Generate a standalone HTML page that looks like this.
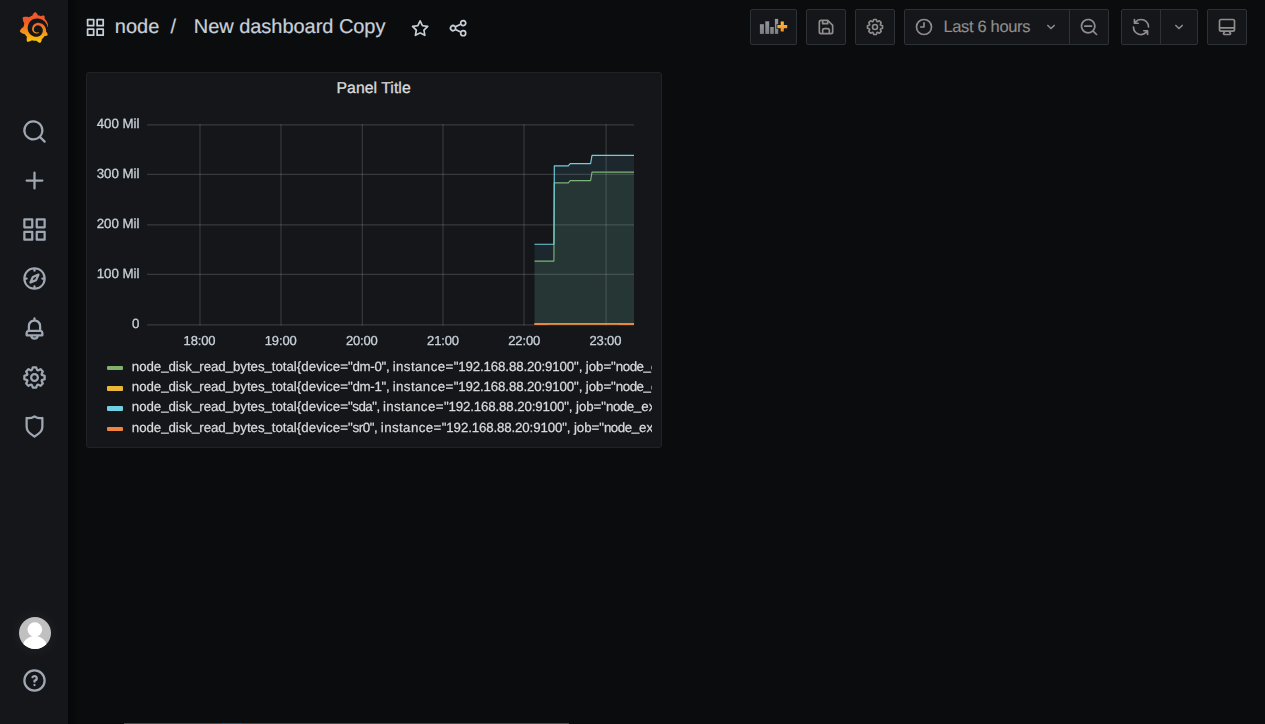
<!DOCTYPE html>
<html>
<head>
<meta charset="utf-8">
<title>New dashboard Copy - Grafana</title>
<style>
html,body{margin:0;padding:0;}
body{width:1265px;height:724px;overflow:hidden;background:#0b0c0e;font-family:"Liberation Sans",sans-serif;color:#c7d0d9;position:relative;}
.abs{position:absolute;}
#side{position:absolute;left:0;top:0;width:68px;height:724px;background:#141619;}
.sico{position:absolute;fill:#9fa7b3;}
.btn{position:absolute;top:9px;height:34px;border:1px solid #2c3235;border-radius:2px;background:#141619;box-sizing:content-box;}
.btn svg{position:absolute;fill:#8e8e8e;}
#panel{position:absolute;left:86px;top:72px;width:574px;height:374px;background:#141619;border:1px solid #202226;border-radius:3px;}
.t{position:absolute;white-space:nowrap;line-height:1;text-rendering:geometricPrecision;}
.lg{line-height:20px !important;height:20px;}
.yl,.xl,.lg{-webkit-text-stroke:0.25px;}
.u{font-style:normal;position:relative;top:-1px;}
.yl{letter-spacing:0px;}
</style>
</head>
<body>
<svg width="0" height="0" style="position:absolute">
<defs>
<path id="i-search" d="M21.71,20.29,18,16.61A9,9,0,1,0,16.61,18l3.68,3.68a1,1,0,0,0,1.42,0A1,1,0,0,0,21.71,20.29ZM11,18a7,7,0,1,1,7-7A7,7,0,0,1,11,18Z"/>
<path id="i-plus" d="M19,11H13V5a1,1,0,0,0-2,0v6H5a1,1,0,0,0,0,2h6v6a1,1,0,0,0,2,0V13h6a1,1,0,0,0,0-2Z"/>
<path id="i-apps" d="M10,13H3a1,1,0,0,0-1,1v7a1,1,0,0,0,1,1h7a1,1,0,0,0,1-1V14A1,1,0,0,0,10,13ZM9,20H4V15H9ZM21,2H14a1,1,0,0,0-1,1v7a1,1,0,0,0,1,1h7a1,1,0,0,0,1-1V3A1,1,0,0,0,21,2ZM20,9H15V4h5Zm1,4H14a1,1,0,0,0-1,1v7a1,1,0,0,0,1,1h7a1,1,0,0,0,1-1V14A1,1,0,0,0,21,13Zm-1,7H15V15h5ZM10,2H3A1,1,0,0,0,2,3v7a1,1,0,0,0,1,1h7a1,1,0,0,0,1-1V3A1,1,0,0,0,10,2ZM9,9H4V4H9Z"/>
<path id="i-compass" d="M12,2A10,10,0,1,0,22,12,10,10,0,0,0,12,2Zm1,17.93V19a1,1,0,0,0-2,0v.93A8,8,0,0,1,4.07,13H5a1,1,0,0,0,0-2H4.07A8,8,0,0,1,11,4.07V5a1,1,0,0,0,2,0V4.07A8,8,0,0,1,19.93,11H19a1,1,0,0,0,0,2h.93A8,8,0,0,1,13,19.93ZM15.14,7.55l-5,2.12a1,1,0,0,0-.52.52l-2.120,5a1,1,0,0,0,.21,1.1,1,1,0,0,0,.7.3.93.93,0,0,0,.4-.09l5-2.120a1,1,0,0,0,.52-.52l2.120-5a1,1,0,0,0-1.310-1.310Zm-2.490,5.1-2.280,1,1-2.280,2.280-1Z"/>
<path id="i-bell" d="M18,13.180V10a6,6,0,0,0-5-5.910V3a1,1,0,0,0-2,0V4.090A6,6,0,0,0,6,10v3.180A3,3,0,0,0,4,16v2a1,1,0,0,0,1,1H8.140a4,4,0,0,0,7.720,0H19a1,1,0,0,0,1-1V16A3,3,0,0,0,18,13.180ZM8,10a4,4,0,0,1,8,0v3H8Zm4,10a2,2,0,0,1-1.720-1h3.440A2,2,0,0,1,12,20Zm6-3H6V16a1,1,0,0,1,1-1H17a1,1,0,0,1,1,1Z"/>
<path id="i-cog" d="M21.320,9.550l-1.890-.63.890-1.780A1,1,0,0,0,20.130,6L18,3.870a1,1,0,0,0-1.150-.19l-1.780.89-.63-1.890A1,1,0,0,0,13.500,2h-3a1,1,0,0,0-.95.680L8.920,4.570,7.140,3.680A1,1,0,0,0,6,3.870L3.870,6a1,1,0,0,0-.19,1.150l.89,1.780-1.890.63A1,1,0,0,0,2,10.500v3a1,1,0,0,0,.68.950l1.890.63-.89,1.780A1,1,0,0,0,3.870,18L6,20.130a1,1,0,0,0,1.150.19l1.780-.89.63,1.890a1,1,0,0,0,.95.680h3a1,1,0,0,0,.95-.68l.63-1.890,1.780.89A1,1,0,0,0,18,20.130L20.130,18a1,1,0,0,0,.19-1.150l-.89-1.780,1.890-.63A1,1,0,0,0,22,13.500v-3A1,1,0,0,0,21.320,9.550ZM20,12.780l-1.200.4A2,2,0,0,0,17.640,16l.57,1.140-1.100,1.100L16,17.640a2,2,0,0,0-2.790,1.160l-.4,1.200H11.220l-.4-1.200A2,2,0,0,0,8,17.640l-1.140.57-1.100-1.100L6.360,16A2,2,0,0,0,5.200,13.180L4,12.780V11.220l1.200-.4A2,2,0,0,0,6.360,8L5.790,6.890l1.100-1.100L8,6.360A2,2,0,0,0,10.820,5.200l.4-1.200h1.560l.4,1.200A2,2,0,0,0,16,6.360l1.140-.57,1.100,1.100L17.640,8a2,2,0,0,0,1.160,2.790l1.200.4ZM12,8a4,4,0,1,0,4,4A4,4,0,0,0,12,8Zm0,6a2,2,0,1,1,2-2A2,2,0,0,1,12,14Z"/>
<path id="i-shield" d="M19.630,3.650a1,1,0,0,0-.84-.2,8,8,0,0,1-6.220-1.270,1,1,0,0,0-1.140,0A8,8,0,0,1,5.210,3.450a1,1,0,0,0-.84.2A1,1,0,0,0,4,4.430v7.450a9,9,0,0,0,3.770,7.330l3.650,2.600a1,1,0,0,0,1.160,0l3.650-2.600A9,9,0,0,0,20,11.880V4.430A1,1,0,0,0,19.630,3.650ZM18,11.880a7,7,0,0,1-2.930,5.700L12,19.770,8.930,17.580A7,7,0,0,1,6,11.880V5.580a10,10,0,0,0,6-1.390,10,10,0,0,0,6,1.390Z"/>
<path id="i-question" d="M11.290,15.290a1.580,1.580,0,0,0-.12.150.76.76,0,0,0-.09.180.64.640,0,0,0-.06.180,1.360,1.360,0,0,0,0,.2.840.84,0,0,0,.08.380.9.900,0,0,0,.54.540.94.940,0,0,0,.76,0,.9.900,0,0,0,.54-.54A1,1,0,0,0,13,16a1,1,0,0,0-.29-.71A1,1,0,0,0,11.290,15.290ZM12,2A10,10,0,1,0,22,12,10,10,0,0,0,12,2Zm0,18a8,8,0,1,1,8-8A8,8,0,0,1,12,20ZM12,7A3,3,0,0,0,9.400,8.500a1,1,0,1,0,1.730,1A1,1,0,0,1,12,9a1,1,0,0,1,0,2,1,1,0,0,0-1,1v1a1,1,0,0,0,2,0v-.18A3,3,0,0,0,12,7Z"/>
<path id="i-star" d="M22,9.670A1,1,0,0,0,21.140,9l-5.690-.83L12.900,3a1,1,0,0,0-1.800,0L8.550,8.160,2.860,9a1,1,0,0,0-.81.680,1,1,0,0,0,.25,1l4.130,4-1,5.680A1,1,0,0,0,6.900,21.440L12,18.770l5.100,2.670a.93.930,0,0,0,.46.120,1,1,0,0,0,.59-.19,1,1,0,0,0,.4-1l-1-5.680,4.130-4A1,1,0,0,0,22,9.670Zm-6.150,4a1,1,0,0,0-.29.880l.72,4.200-3.760-2a1.060,1.060,0,0,0-.94,0l-3.760,2,.72-4.200a1,1,0,0,0-.29-.88l-3-3,4.210-.61a1,1,0,0,0,.76-.55L12,5.700l1.880,3.820a1,1,0,0,0,.76.550l4.210.61Z"/>
<path id="i-share" d="M18,14a4,4,0,0,0-3.080,1.480l-5.100-2.350a3.640,3.640,0,0,0,0-2.260l5.100-2.350A4,4,0,1,0,14,6a4.170,4.170,0,0,0,.07.710L8.790,9.140a4,4,0,1,0,0,5.720l5.280,2.430A4.170,4.170,0,0,0,14,18a4,4,0,1,0,4-4ZM18,4a2,2,0,1,1-2,2A2,2,0,0,1,18,4ZM6,14a2,2,0,1,1,2-2A2,2,0,0,1,6,14Zm12,6a2,2,0,1,1,2-2A2,2,0,0,1,18,20Z"/>
<path id="i-save" d="M20.710,9.290l-6-6a1,1,0,0,0-.32-.21A1.090,1.090,0,0,0,14,3H6A3,3,0,0,0,3,6V18a3,3,0,0,0,3,3H18a3,3,0,0,0,3-3V10A1,1,0,0,0,20.710,9.290ZM9,5h4V7H9Zm6,14H9V16a1,1,0,0,1,1-1h4a1,1,0,0,1,1,1Zm4-1a1,1,0,0,1-1,1H17V16a3,3,0,0,0-3-3H10a3,3,0,0,0-3,3v3H6a1,1,0,0,1-1-1V6A1,1,0,0,1,6,5H7V8A1,1,0,0,0,8,9h6a1,1,0,0,0,1-1V6.410l4,4Z"/>
<path id="i-clock" d="M12,2A10,10,0,1,0,22,12,10.011,10.011,0,0,0,12,2Zm0,18a8,8,0,1,1,8-8A8.009,8.009,0,0,1,12,20ZM12,6a1,1,0,0,0-1,1v4H8a1,1,0,0,0,0,2h4a1,1,0,0,0,1-1V7A1,1,0,0,0,12,6Z"/>
<path id="i-angle" d="M17,9.170a1,1,0,0,0-1.410,0L12,12.710,8.460,9.170a1,1,0,0,0-1.410,0,1,1,0,0,0,0,1.420l4.240,4.240a1,1,0,0,0,1.420,0L17,10.590A1,1,0,0,0,17,9.170Z"/>
<path id="i-zoomout" d="M21.710,20.290,18,16.610A9,9,0,1,0,16.610,18l3.680,3.680a1,1,0,0,0,1.420,0A1,1,0,0,0,21.710,20.290ZM11,18a7,7,0,1,1,7-7A7,7,0,0,1,11,18Zm4-8H7a1,1,0,0,0,0,2h8a1,1,0,0,0,0-2Z"/>
<path id="i-sync" d="M19.910,15.510H15.380a1,1,0,0,0,0,2h2.400A8,8,0,0,1,4,12a1,1,0,0,0-2,0,10,10,0,0,0,16.880,7.230V21a1,1,0,0,0,2,0V16.500A1,1,0,0,0,19.910,15.510ZM12,2A10,10,0,0,0,5.120,4.770V3a1,1,0,0,0-2,0V7.500a1,1,0,0,0,1,1h4.500a1,1,0,0,0,0-2H6.220A8,8,0,0,1,20,12a1,1,0,0,0,2,0A10,10,0,0,0,12,2Z"/>
<path id="i-monitor" d="M19,2H5A3,3,0,0,0,2,5V15a3,3,0,0,0,3,3H7.640l-.58,1a2,2,0,0,0,0,2,2,2,0,0,0,1.750,1h6.460A2,2,0,0,0,17,21a2,2,0,0,0,0-2l-.59-1H19a3,3,0,0,0,3-3V5A3,3,0,0,0,19,2ZM8.770,20,10,18H14l1.200,2ZM20,15a1,1,0,0,1-1,1H5a1,1,0,0,1-1-1V14H20Zm0-3H4V5A1,1,0,0,1,5,4H19a1,1,0,0,1,1,1Z"/>
</defs>
</svg>

<!-- SIDEBAR -->
<div id="side">
<svg class="abs" style="left:19.3px;top:12px" width="29.8" height="31" viewBox="0 0 351 365"><defs><linearGradient id="logograd" gradientUnits="userSpaceOnUse" x1="175.5" y1="445" x2="175.5" y2="114"><stop offset="0" stop-color="#FFF100"/><stop offset="1" stop-color="#F05A28"/></linearGradient></defs><path fill="url(#logograd)" d="M342,161.2c-0.6-6.1-1.6-13.1-3.600-20.900c-2-7.700-5-16.200-9.400-25c-4.400-8.800-10.100-17.900-17.500-26.800c-2.900-3.500-6.100-6.900-9.500-10.200c5.100-20.300-6.200-37.900-6.200-37.900c-19.500-1.200-31.900,6.100-36.500,9.400c-0.800-0.300-1.500-0.700-2.300-1c-3.300-1.300-6.700-2.600-10.300-3.700c-3.500-1.100-7.100-2.100-10.800-3c-3.700-0.900-7.400-1.600-11.200-2.200c-0.700-0.100-1.300-0.200-2-0.300c-8.500-27.200-32.900-38.600-32.900-38.600c-27.300,17.300-32.400,41.500-32.400,41.500s-0.100,0.500-0.300,1.400c-1.500,0.400-3,0.900-4.500,1.300c-2.100,0.600-4.200,1.400-6.200,2.200c-2.100,0.800-4.100,1.600-6.200,2.500c-4.100,1.800-8.200,3.800-12.200,6c-3.900,2.200-7.700,4.600-11.400,7.100c-0.500-0.200-1-0.400-1-0.400c-37.800-14.400-71.300,2.900-71.300,2.900c-3.100,40.200,15.100,65.500,18.700,70.100c-0.900,2.500-1.700,5-2.500,7.500c-2.800,9.100-4.900,18.400-6.200,28.100c-0.200,1.400-0.400,2.800-0.500,4.200C18.800,192.700,8.500,228,8.500,228c29.100,33.500,63.100,35.600,63.100,35.600c0,0,0.100-0.100,0.100-0.100c4.300,7.700,9.300,15,14.900,21.900c2.400,2.900,4.800,5.600,7.400,8.300c-10.600,30.400,1.500,55.600,1.500,55.600c32.400,1.200,53.700-14.200,58.200-17.700c3.200,1.100,6.500,2.100,9.800,2.900c10,2.600,20.200,4.100,30.400,4.500c2.500,0.100,5.100,0.200,7.600,0.100l1.200,0l0.800,0l1.600,0l1.600-0.100l0,0.100c15.300,21.800,42.100,24.900,42.100,24.900c19.100-20.100,20.200-40.100,20.200-44.400l0,0c0,0,0-0.100,0-0.300c0-0.400,0-0.600,0-0.600l0,0c0-0.300,0-0.600,0-0.900c4-2.800,7.800-5.800,11.400-9.100c7.600-6.900,14.300-14.800,19.900-23.300c0.500-0.800,1-1.600,1.500-2.400c21.600,1.200,36.900-13.400,36.900-13.400c-3.600-22.500-16.400-33.500-19.100-35.600l0,0c0,0-0.100-0.100-0.300-0.200c-0.200-0.100-0.200-0.200-0.200-0.200c0,0,0,0,0,0c-0.100-0.100-0.300-0.200-0.500-0.300c0.100-1.400,0.200-2.700,0.300-4.100c0.200-2.400,0.200-4.900,0.200-7.300l0-1.800l0-0.900l0-0.500c0-0.600,0-0.400,0-0.600l-0.100-1.500l-0.100-2c0-0.700-0.100-1.300-0.200-1.900c-0.100-0.600-0.100-1.300-0.200-1.900l-0.200-1.900l-0.300-1.900c-0.400-2.500-0.800-4.900-1.400-7.400c-2.300-9.700-6.100-18.900-11-27.200c-5-8.300-11.200-15.600-18.300-21.800c-7-6.200-14.900-11.200-23.100-14.900c-8.300-3.700-16.900-6.100-25.500-7.200c-4.300-0.600-8.600-0.800-12.900-0.700l-1.600,0l-0.400,0c-0.100,0-0.600,0-0.500,0l-0.700,0l-1.600,0.100c-0.600,0-1.200,0.100-1.700,0.100c-2.200,0.200-4.400,0.500-6.500,0.900c-8.600,1.600-16.700,4.700-23.800,9c-7.100,4.300-13.300,9.600-18.300,15.600c-5,6-8.900,12.700-11.600,19.600c-2.700,6.900-4.200,14.100-4.600,21c-0.100,1.700-0.100,3.500-0.100,5.200c0,0.400,0,0.900,0,1.300l0.100,1.400c0.100,0.800,0.100,1.700,0.200,2.500c0.300,3.500,1,6.900,1.900,10.100c1.900,6.500,4.900,12.400,8.600,17.400c3.700,5,8.200,9.100,12.900,12.400c4.700,3.200,9.800,5.500,14.800,7c5,1.500,10,2.100,14.700,2.100c0.600,0,1.200,0,1.700,0c0.300,0,0.600,0,0.900,0c0.300,0,0.600,0,0.900-0.100c0.500,0,1-0.100,1.500-0.100c0.100,0,0.300,0,0.400-0.100l0.500-0.100c0.300,0,0.600-0.100,0.900-0.100c0.600-0.100,1.100-0.200,1.700-0.300c0.600-0.100,1.100-0.200,1.600-0.400c1.100-0.200,2.100-0.600,3.100-0.900c2-0.700,4-1.500,5.700-2.400c1.800-0.900,3.400-2,5-3c0.400-0.300,0.900-0.600,1.300-1c1.600-1.300,1.900-3.700,0.600-5.300c-1.100-1.400-3.100-1.800-4.700-0.900c-0.400,0.200-0.800,0.400-1.200,0.600c-1.400,0.700-2.800,1.300-4.300,1.800c-1.500,0.500-3.100,0.900-4.700,1.200c-0.800,0.100-1.600,0.200-2.500,0.300c-0.400,0-0.800,0.100-1.300,0.100c-0.400,0-0.900,0-1.200,0c-0.400,0-0.800,0-1.200,0c-0.500,0-1,0-1.500-0.100c0,0-0.300,0-0.100,0l-0.200,0l-0.300,0c-0.200,0-0.500,0-0.700-0.100c-0.500-0.100-0.900-0.100-1.400-0.200c-3.700-0.500-7.400-1.600-10.900-3.200c-3.600-1.600-7-3.800-10.100-6.600c-3.100-2.800-5.800-6.100-7.900-9.900c-2.100-3.800-3.600-8-4.300-12.400c-0.300-2.200-0.500-4.500-0.400-6.700c0-0.600,0.100-1.200,0.100-1.800c0,0.200,0-0.100,0-0.100l0-0.200l0-0.500c0-0.300,0.100-0.600,0.100-0.900c0.100-1.200,0.300-2.400,0.500-3.600c1.700-9.600,6.500-19,13.900-26.100c1.900-1.800,3.900-3.400,6-4.900c2.100-1.500,4.400-2.800,6.800-3.900c2.400-1.100,4.800-2,7.400-2.700c2.500-0.700,5.100-1.100,7.800-1.400c1.300-0.100,2.600-0.200,4-0.200c0.400,0,0.600,0,0.900,0l1.100,0l0.700,0c0.300,0,0,0,0.100,0l0.300,0l1.100,0.100c2.900,0.200,5.700,0.600,8.500,1.300c5.600,1.200,11.100,3.300,16.200,6.100c10.200,5.700,18.900,14.500,24.200,25.100c2.700,5.300,4.600,11,5.500,16.900c0.200,1.500,0.400,3,0.500,4.500l0.100,1.100l0.100,1.100c0,0.400,0,0.800,0,1.100c0,0.400,0,0.800,0,1.100l0,1l0,1.100c0,0.700-0.100,1.900-0.100,2.600c-0.100,1.600-0.300,3.300-0.500,4.900c-0.200,1.600-0.500,3.200-0.800,4.800c-0.300,1.600-0.700,3.200-1.100,4.700c-0.800,3.100-1.800,6.200-3,9.300c-2.400,6-5.600,11.800-9.400,17.100c-7.700,10.600-18.200,19.200-30.200,24.700c-6,2.700-12.300,4.700-18.800,5.700c-3.200,0.600-6.500,0.900-9.800,1l-0.600,0l-0.500,0l-1.100,0l-1.600,0l-0.800,0c0.400,0-0.100,0-0.100,0l-0.300,0c-1.800,0-3.500-0.100-5.300-0.300c-7-0.500-13.900-1.800-20.700-3.700c-6.700-1.900-13.200-4.600-19.400-7.800c-12.300-6.600-23.400-15.600-32-26.500c-4.300-5.400-8.100-11.300-11.200-17.400c-3.100-6.100-5.600-12.600-7.400-19.100c-1.800-6.600-2.900-13.300-3.400-20.100l-0.100-1.300l0-0.300l0-0.300l0-0.600l0-1.100l0-0.300l0-0.400l0-0.800l0-1.600l0-0.300c0,0,0,0.100,0-0.100l0-0.600c0-0.800,0-1.700,0-2.500c0.100-3.300,0.400-6.800,0.800-10.200c0.400-3.400,1-6.900,1.700-10.300c0.700-3.400,1.500-6.800,2.500-10.200c1.900-6.700,4.300-13.200,7.100-19.300c5.700-12.200,13.100-23.100,22-31.800c2.200-2.200,4.500-4.200,6.900-6.200c2.400-1.900,4.900-3.700,7.500-5.400c2.500-1.700,5.200-3.200,7.900-4.600c1.300-0.700,2.700-1.400,4.100-2c0.700-0.300,1.400-0.600,2.100-0.900c0.700-0.300,1.400-0.600,2.100-0.900c2.800-1.200,5.700-2.200,8.700-3.100c0.700-0.200,1.500-0.400,2.200-0.700c0.700-0.200,1.500-0.400,2.200-0.600c1.500-0.400,3-0.800,4.500-1.100c0.700-0.200,1.500-0.300,2.300-0.500c0.800-0.200,1.500-0.300,2.300-0.500c0.800-0.100,1.500-0.300,2.300-0.400l1.100-0.200l1.200-0.200c0.800-0.100,1.500-0.200,2.300-0.300c0.900-0.100,1.700-0.200,2.600-0.300c0.700-0.100,1.900-0.200,2.600-0.300c0.500-0.100,1.100-0.100,1.600-0.200l1.100-0.100l0.500-0.100l0.600,0c0.900-0.100,1.700-0.100,2.600-0.200l1.300-0.100c0,0,0.500,0,0.100,0l0.300,0l0.600,0c0.700,0,1.500-0.100,2.200-0.100c2.900-0.100,5.900-0.100,8.800,0c5.800,0.200,11.500,0.900,17,1.900c11.100,2.100,21.500,5.600,31,10.300c9.500,4.600,17.900,10.300,25.300,16.500c0.500,0.400,0.900,0.800,1.400,1.200c0.400,0.400,0.900,0.800,1.300,1.200c0.900,0.800,1.700,1.600,2.600,2.400c0.900,0.800,1.700,1.600,2.500,2.400c0.800,0.800,1.600,1.600,2.400,2.500c3.100,3.300,6,6.600,8.600,10c5.200,6.700,9.400,13.500,12.700,19.900c0.200,0.400,0.400,0.800,0.600,1.200c0.200,0.400,0.400,0.800,0.600,1.200c0.400,0.800,0.800,1.600,1.100,2.400c0.400,0.800,0.700,1.500,1.100,2.300c0.300,0.800,0.700,1.500,1,2.300c1.200,3,2.400,5.900,3.300,8.600c1.500,4.400,2.600,8.300,3.500,11.700c0.300,1.400,1.600,2.300,3,2.100c1.500-0.100,2.600-1.300,2.600-2.800C342.600,170.400,342.500,166.100,342,161.200z"/></svg>
<svg class="sico" style="left:21px;top:117.6px" width="27" height="27" viewBox="0 0 24 24"><use href="#i-search"/></svg>
<svg class="sico" style="left:21px;top:166.8px" width="27" height="27" viewBox="0 0 24 24"><use href="#i-plus"/></svg>
<svg class="sico" style="left:21px;top:215.9px" width="27" height="27" viewBox="0 0 24 24"><use href="#i-apps"/></svg>
<svg class="sico" style="left:21px;top:265.1px" width="27" height="27" viewBox="0 0 24 24"><use href="#i-compass"/></svg>
<svg class="sico" style="left:21px;top:314.8px" width="27" height="27" viewBox="0 0 24 24"><use href="#i-bell"/></svg>
<svg class="sico" style="left:21px;top:363.8px" width="27" height="27" viewBox="0 0 24 24"><use href="#i-cog"/></svg>
<svg class="sico" style="left:21px;top:412.5px" width="27" height="27" viewBox="0 0 24 24"><use href="#i-shield"/></svg>
<div class="abs" style="left:19px;top:617px;width:32px;height:32px;border-radius:50%;box-shadow:0 0 14px 2px rgba(255,255,255,0.05)"></div><svg class="abs" style="left:19px;top:617px" width="32" height="32" viewBox="0 0 32 32"><defs><clipPath id="avc"><circle cx="16" cy="16" r="16"/></clipPath></defs><g clip-path="url(#avc)"><rect width="32" height="32" fill="#c0c0c0"/><circle cx="15.8" cy="12.6" r="7.3" fill="#fff"/><ellipse cx="15.8" cy="31" rx="12.4" ry="12" fill="#fff"/></g></svg>
<svg class="sico" style="left:21px;top:666.8px" width="27" height="27" viewBox="0 0 24 24"><use href="#i-question"/></svg>
</div>

<div class="abs" style="left:68px;top:0;width:14px;height:724px;background:linear-gradient(to right,rgba(0,0,0,0.45),rgba(0,0,0,0))"></div>
<div class="abs" style="left:124px;top:723px;width:445px;height:1px;background:#4a4a4a"></div>
<div class="abs" style="left:222px;top:723px;width:20px;height:1px;background:#1f5f8b"></div>
<!-- HEADER -->
<div id="hdr">
<svg class="abs" style="left:84.7px;top:16.7px;fill:#c7d0d9" width="20.8" height="20.8" viewBox="0 0 24 24"><use href="#i-apps"/></svg>
<div class="t" id="t-node" style="left:114.8px;top:16.9px;-webkit-text-stroke:0.2px;font-size:20px;color:#c7d0d9">node</div>
<div class="t" id="t-slash" style="left:170.5px;top:16.9px;-webkit-text-stroke:0.2px;font-size:20px;color:#c7d0d9">/</div>
<div class="t" id="t-title" style="left:193.8px;top:16.9px;-webkit-text-stroke:0.2px;letter-spacing:-0.04px;font-size:20px;color:#c7d0d9">New dashboard Copy</div>
<svg class="abs" style="left:409.9px;top:18.2px;fill:#c7d0d9" width="20.25" height="20.25" viewBox="0 0 24 24"><use href="#i-star"/></svg>
<svg class="abs" style="left:448.2px;top:18.2px;fill:#c7d0d9" width="20.25" height="20.25" viewBox="0 0 24 24"><use href="#i-share"/></svg>
</div>

<!-- TOOLBAR -->
<div id="tb">
<div class="btn" style="left:750px;width:45px"><svg style="left:-1px;top:-1px;fill:none" width="45" height="34" viewBox="750 9 45 34"><defs><linearGradient id="plusgrad" x1="0" y1="0" x2="0" y2="1"><stop offset="0" stop-color="#ffbd40"/><stop offset="1" stop-color="#f28c28"/></linearGradient><linearGradient id="bargrad" gradientUnits="userSpaceOnUse" x1="0" y1="18" x2="0" y2="34"><stop offset="0" stop-color="#989ba1"/><stop offset="1" stop-color="#7c7e84"/></linearGradient></defs><rect x="759.9" y="24.2" width="4" height="9.7" fill="url(#bargrad)"/><rect x="765.3" y="21.3" width="3.9" height="12.6" fill="url(#bargrad)"/><rect x="770.2" y="27" width="3.6" height="6.9" fill="url(#bargrad)"/><rect x="774.9" y="18.9" width="3.3" height="15" fill="url(#bargrad)"/><path d="M780.7 21.6h3.1v3.45h3.4v3.1h-3.4v3.45h-3.1v-3.45h-3.4v-3.1h3.4z" fill="url(#plusgrad)" stroke="#141619" stroke-width="1.6" paint-order="stroke"/></svg></div>
<div class="btn" style="left:806px;width:38px"><svg style="left:9px;top:7px" width="20" height="20" viewBox="0 0 24 24"><use href="#i-save"/></svg></div>
<div class="btn" style="left:855px;width:38px"><svg style="left:9px;top:7px" width="20" height="20" viewBox="0 0 24 24"><use href="#i-cog"/></svg></div>
<div class="btn" style="left:904px;width:164px;border-radius:2px 0 0 2px"><svg style="left:9.2px;top:7px" width="20" height="20" viewBox="0 0 24 24"><use href="#i-clock"/></svg>
<div class="t" id="t-time" style="left:38.4px;top:9.1px;font-size:16.5px;letter-spacing:-0.34px;-webkit-text-stroke:0.15px;color:#8e8e8e">Last 6 hours</div>
<svg style="left:137.1px;top:8px" width="18" height="18" viewBox="0 0 24 24"><use href="#i-angle"/></svg></div>
<div class="btn" style="left:1069px;width:38px;border-radius:0 2px 2px 0"><svg style="left:9px;top:7px" width="20" height="20" viewBox="0 0 24 24"><use href="#i-zoomout"/></svg></div>
<div class="btn" style="left:1121px;width:38px;border-radius:2px 0 0 2px"><svg style="left:9px;top:7px" width="20" height="20" viewBox="0 0 24 24"><use href="#i-sync"/></svg></div>
<div class="btn" style="left:1160px;width:36px;border-radius:0 2px 2px 0"><svg style="left:9px;top:8px" width="18" height="18" viewBox="0 0 24 24"><use href="#i-angle"/></svg></div>
<div class="btn" style="left:1207px;width:38px"><svg style="left:9px;top:7px" width="20" height="20" viewBox="0 0 24 24"><use href="#i-monitor"/></svg></div>
</div>

<!-- PANEL -->
<div id="panel">
<div class="t" id="t-ptitle" style="left:249.5px;top:7.9px;letter-spacing:0.06px;font-size:15.75px;color:#d8d9da;-webkit-text-stroke:0.35px #d8d9da;">Panel Title</div>
<div id="gs" style="position:absolute;left:0;top:0;width:574px;height:374px;will-change:transform;">
<svg class="abs" style="left:-87px;top:-73px" width="1265" height="724" viewBox="0 0 1265 724">
<line x1="147" x2="634" y1="124.85" y2="124.85" stroke="rgba(200,200,200,0.2)" stroke-width="1.15"/>
<line x1="147" x2="634" y1="174.3" y2="174.3" stroke="rgba(200,200,200,0.2)" stroke-width="1.15"/>
<line x1="147" x2="634" y1="224.8" y2="224.8" stroke="rgba(200,200,200,0.2)" stroke-width="1.15"/>
<line x1="147" x2="634" y1="274.3" y2="274.3" stroke="rgba(200,200,200,0.2)" stroke-width="1.15"/>
<line x1="147" x2="634" y1="324.85" y2="324.85" stroke="rgba(200,200,200,0.2)" stroke-width="1.15"/>
<line x1="200.0" x2="200.0" y1="124.3" y2="325.4" stroke="rgba(200,200,200,0.2)" stroke-width="1.15"/>
<line x1="281.0" x2="281.0" y1="124.3" y2="325.4" stroke="rgba(200,200,200,0.2)" stroke-width="1.15"/>
<line x1="362.3" x2="362.3" y1="124.3" y2="325.4" stroke="rgba(200,200,200,0.2)" stroke-width="1.15"/>
<line x1="443.0" x2="443.0" y1="124.3" y2="325.4" stroke="rgba(200,200,200,0.2)" stroke-width="1.15"/>
<line x1="524.0" x2="524.0" y1="124.3" y2="325.4" stroke="rgba(200,200,200,0.2)" stroke-width="1.15"/>
<line x1="606.1" x2="606.1" y1="124.3" y2="325.4" stroke="rgba(200,200,200,0.2)" stroke-width="1.15"/>
<polygon points="534.5,261.1 553.9,261.1 554.3,182.8 568.3,182.8 570.2,180.6 590.6,180.6 592,172.1 634,172.1 634,324.5 534.5,324.5" fill="#7EB26D" fill-opacity="0.1"/>
<polyline points="534.5,261.1 553.9,261.1 554.3,182.8 568.3,182.8 570.2,180.6 590.6,180.6 592,172.1 634,172.1" fill="none" stroke="#7EB26D" stroke-width="1.15" stroke-linejoin="round"/>
<polyline points="534.5,323.7 634,323.7" fill="none" stroke="#EAB839" stroke-width="1.15"/>
<polygon points="534.5,244.2 553.9,244.2 554.3,165.9 568.3,165.9 570.2,163.6 590.6,163.6 592,155.3 634,155.3 634,324.5 534.5,324.5" fill="#6ED0E0" fill-opacity="0.1"/>
<polyline points="534.5,244.2 553.9,244.2 554.3,165.9 568.3,165.9 570.2,163.6 590.6,163.6 592,155.3 634,155.3" fill="none" stroke="#6ED0E0" stroke-width="1.15" stroke-linejoin="round"/>
<polyline points="534.5,323.9 634,323.9" fill="none" stroke="#EF8F3C" stroke-width="1.5"/><polyline points="534.5,324.5 548.7,324.5" fill="none" stroke="#EF843C" stroke-width="1.1"/><polyline points="618.9,324.5 634,324.5" fill="none" stroke="#EF843C" stroke-width="1.1"/>
</svg>
<div class="t yl" style="right:521.5px;top:44.2px;font-size:13.3px;-webkit-text-stroke:0.3px;">400 Mil</div>
<div class="t yl" style="right:521.5px;top:94.2px;font-size:13.3px;-webkit-text-stroke:0.3px;">300 Mil</div>
<div class="t yl" style="right:521.5px;top:144.2px;font-size:13.3px;-webkit-text-stroke:0.3px;">200 Mil</div>
<div class="t yl" style="right:521.5px;top:194.2px;font-size:13.3px;-webkit-text-stroke:0.3px;">100 Mil</div>
<div class="t yl" style="right:521.5px;top:244.2px;font-size:13.3px;-webkit-text-stroke:0.3px;">0</div>
<div class="t xl" style="left:92.5px;width:40px;text-align:center;top:260.8px;font-size:13px;letter-spacing:-0.15px;-webkit-text-stroke:0.3px">18:00</div>
<div class="t xl" style="left:173.7px;width:40px;text-align:center;top:260.8px;font-size:13px;letter-spacing:-0.15px;-webkit-text-stroke:0.3px">19:00</div>
<div class="t xl" style="left:254.8px;width:40px;text-align:center;top:260.8px;font-size:13px;letter-spacing:-0.15px;-webkit-text-stroke:0.3px">20:00</div>
<div class="t xl" style="left:336.0px;width:40px;text-align:center;top:260.8px;font-size:13px;letter-spacing:-0.15px;-webkit-text-stroke:0.3px">21:00</div>
<div class="t xl" style="left:417.2px;width:40px;text-align:center;top:260.8px;font-size:13px;letter-spacing:-0.15px;-webkit-text-stroke:0.3px">22:00</div>
<div class="t xl" style="left:498.4px;width:40px;text-align:center;top:260.8px;font-size:13px;letter-spacing:-0.15px;-webkit-text-stroke:0.3px">23:00</div>
<div class="abs" style="left:20px;top:292.9px;width:16px;height:4.5px;background:#7EB26D;border-radius:1px"></div>
<div class="t lg" id="lg0" style="left:44.8px;top:284.4px;font-size:13.3px;width:520.4px;overflow:hidden;color:#d8d9da"><span style="letter-spacing:-0.059px">node<i class="u">_</i>disk<i class="u">_</i>read<i class="u">_</i>bytes<i class="u">_</i>total</span><span style="letter-spacing:0.0925px">{device=</span><span style="letter-spacing:-0.315px">&quot;dm-0&quot;, </span><span style="letter-spacing:0.411px">instance=</span><span style="letter-spacing:-0.138px">&quot;192.168.88.20:9100&quot;, </span><span style="letter-spacing:-0.05px">job=&quot;</span><span style="letter-spacing:-0.45px">node</span><span style="letter-spacing:0.05px"><i class="u">_</i>exporter&quot;}</span></div>
<div class="abs" style="left:20px;top:313.4px;width:16px;height:4.5px;background:#EAB839;border-radius:1px"></div>
<div class="t lg" id="lg1" style="left:44.8px;top:304.4px;font-size:13.3px;width:520.4px;overflow:hidden;color:#d8d9da"><span style="letter-spacing:-0.059px">node<i class="u">_</i>disk<i class="u">_</i>read<i class="u">_</i>bytes<i class="u">_</i>total</span><span style="letter-spacing:0.0925px">{device=</span><span style="letter-spacing:-0.315px">&quot;dm-1&quot;, </span><span style="letter-spacing:0.411px">instance=</span><span style="letter-spacing:-0.138px">&quot;192.168.88.20:9100&quot;, </span><span style="letter-spacing:-0.05px">job=&quot;</span><span style="letter-spacing:-0.45px">node</span><span style="letter-spacing:0.05px"><i class="u">_</i>exporter&quot;}</span></div>
<div class="abs" style="left:20px;top:333.3px;width:16px;height:4.5px;background:#6ED0E0;border-radius:1px"></div>
<div class="t lg" id="lg2" style="left:44.8px;top:324.4px;font-size:13.3px;width:520.4px;overflow:hidden;color:#d8d9da"><span style="letter-spacing:-0.059px">node<i class="u">_</i>disk<i class="u">_</i>read<i class="u">_</i>bytes<i class="u">_</i>total</span><span style="letter-spacing:0.0925px">{device=</span><span style="letter-spacing:-0.497px">&quot;sda&quot;, </span><span style="letter-spacing:0.411px">instance=</span><span style="letter-spacing:-0.138px">&quot;192.168.88.20:9100&quot;, </span><span style="letter-spacing:-0.05px">job=&quot;</span><span style="letter-spacing:-0.45px">node</span><span style="letter-spacing:0.05px"><i class="u">_</i>exporter&quot;}</span></div>
<div class="abs" style="left:20px;top:353.9px;width:16px;height:4.5px;background:#EF843C;border-radius:1px"></div>
<div class="t lg" id="lg3" style="left:44.8px;top:345.4px;font-size:13.3px;width:520.4px;overflow:hidden;color:#d8d9da"><span style="letter-spacing:-0.059px">node<i class="u">_</i>disk<i class="u">_</i>read<i class="u">_</i>bytes<i class="u">_</i>total</span><span style="letter-spacing:0.0925px">{device=</span><span style="letter-spacing:-0.373px">&quot;sr0&quot;, </span><span style="letter-spacing:0.411px">instance=</span><span style="letter-spacing:-0.138px">&quot;192.168.88.20:9100&quot;, </span><span style="letter-spacing:-0.05px">job=&quot;</span><span style="letter-spacing:-0.45px">node</span><span style="letter-spacing:0.05px"><i class="u">_</i>exporter&quot;}</span></div>
</div>
</div>

</body>
</html>
